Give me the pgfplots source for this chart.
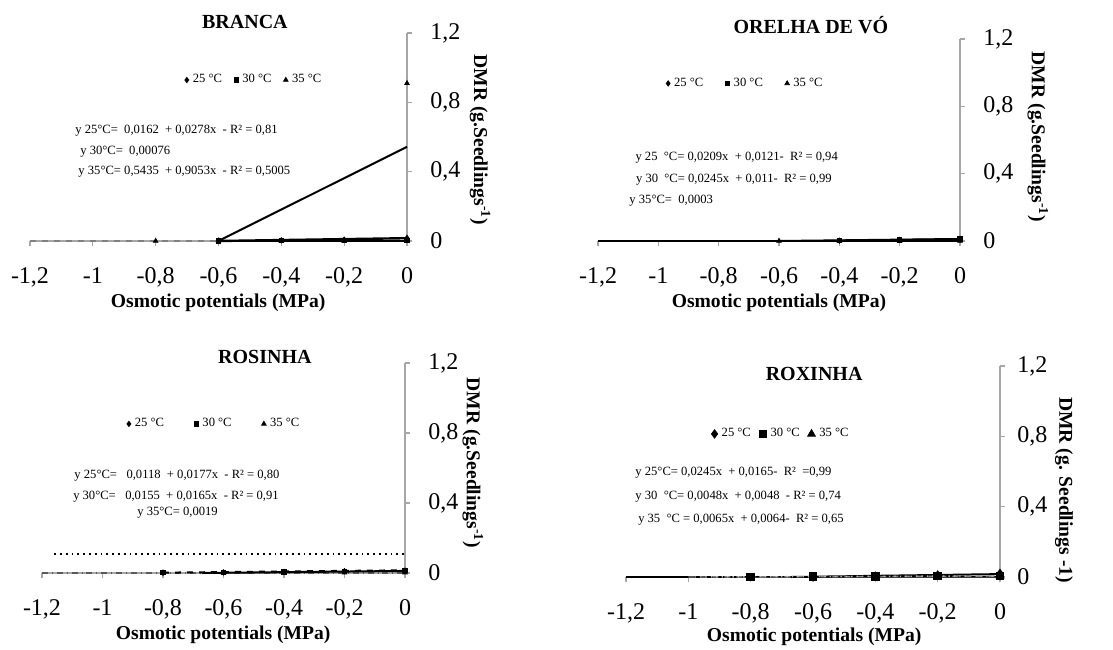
\documentclass[border=0pt]{standalone}
\usepackage{fontspec}
\setmainfont{Liberation Serif}
\usepackage{pgfplots}
\pgfplotsset{compat=1.18}
\newcommand{\eqf}{\fontsize{6.3}{7}\selectfont}
\tikzset{eq/.style={anchor=west, inner sep=0pt, font=\eqf}}
\pgfplotsset{
  panel/.style={
    scale only axis, clip=false,
    xmin=-1.2, xmax=0, ymin=0, ymax=1.2,
    axis x line*=bottom, axis y line*=right,
    axis line style={draw=gray!70, line width=0.6pt},
    xtick={-1.2,-1,-0.8,-0.6,-0.4,-0.2,0},
    xticklabels={{-1,2},{-1},{-0,8},{-0,6},{-0,4},{-0,2},{0}},
    ytick={0,0.4,0.8,1.2},
    yticklabels={{0},{0,4},{0,8},{1,2}},
    tick align=outside, major tick length=2.5pt,
    tick style={draw=gray!70, line width=0.6pt},
    ticklabel style={font=\fontsize{12}{12}\selectfont},
    xticklabel style={anchor=north, inner sep=0pt},
    yticklabel style={anchor=west, inner sep=0pt},
    xticklabel shift=10.5pt,
    yticklabel shift=9pt,
    legend columns=3,
    legend style={draw=none, fill=none, font=\eqf, anchor=center,
      /tikz/every even column/.append style={column sep=4pt}},
    legend cell align=left,
  },
  lbl/.style n args={6}{
    every axis title/.style={at={(axis description cs:#1,#2)}, anchor=center, font=\fontsize{10}{10}\selectfont\bfseries},
    every axis x label/.style={at={(axis description cs:#3,#4)}, anchor=center, font=\fontsize{9.8}{10}\selectfont\bfseries},
    every axis y label/.style={at={(axis description cs:#5,#6)}, anchor=center, rotate=-90, font=\fontsize{9.8}{10}\selectfont\bfseries},
  },
  m25/.style={only marks, mark=diamond*, mark size=1.3pt, black},
  m30/.style={only marks, mark=square*, mark size=1.1pt, black},
  m35/.style={only marks, mark=triangle*, mark size=1.3pt, black},
}
\begin{document}
\begin{tikzpicture}
\useasboundingbox (0,0) rectangle (556.5pt,324.5pt);

% ---------------- BRANCA ----------------
\begin{axis}[panel, at={(15pt,204pt)}, anchor=south west,
  width=188.5pt, height=104pt,
  lbl={0.57}{1.055}{0.499}{-0.298}{1.194}{0.486},
  title={BRANCA}, xlabel={Osmotic potentials (MPa)},
  ylabel={DMR (g.Seedlings\textsuperscript{-1})},
  legend style={at={(axis description cs:0.597,0.774)}}]
\addplot[m25] coordinates {(-0.6,0.002) (-0.4,0.004) (-0.2,0.008) (0,0.018)};
\addlegendentry{25 °C}
\addplot[m30] coordinates {(-0.6,0.001) (-0.4,0.002) (-0.2,0.002) (0,0.004)};
\addlegendentry{30 °C}
\addplot[m35] coordinates {(-0.8,0) (-0.6,0) (-0.4,0) (-0.2,0) (0,0.91)};
\addlegendentry{35 °C}
\addplot[forget plot, gray, dashed, line width=0.6pt] coordinates {(-1.2,0) (0,0)};
\addplot[forget plot, black, line width=1pt] coordinates {(-0.6,0.0003) (0,0.5435)};
\addplot[forget plot, black, line width=1.2pt] coordinates {(-0.6,0) (0,0.0162)};
\addplot[forget plot, black, line width=0.8pt] coordinates {(-0.6,0.00076) (0,0.00076)};
\node[eq] at (axis cs:-1.057,0.635) {y 25°C=\ \ 0,0162\ \ + 0,0278x\ \ - R² = 0,81};
\node[eq] at (axis cs:-1.041,0.513) {y 30°C=\ \ 0,00076};
\node[eq] at (axis cs:-1.047,0.398) {y 35°C=\ 0,5435\ \ + 0,9053x\ \ - R² = 0,5005};
\end{axis}

% ---------------- ORELHA DE VO ----------------
\begin{axis}[panel, at={(299pt,204pt)}, anchor=south west,
  width=181pt, height=101pt,
  lbl={0.588}{1.069}{0.5}{-0.307}{1.215}{0.515},
  title={ORELHA DE VÓ}, xlabel={Osmotic potentials (MPa)},
  ylabel={DMR (g.Seedlings\textsuperscript{-1})},
  legend style={at={(axis description cs:0.41,0.78)},
    /tikz/every even column/.append style={column sep=9pt}}]
\addplot[m25] coordinates {(-0.4,0.002) (-0.2,0.007) (0,0.013)};
\addlegendentry{25 °C}
\addplot[m30] coordinates {(-0.4,0.002) (-0.2,0.006) (0,0.012)};
\addlegendentry{30 °C}
\addplot[m35] coordinates {(-0.6,0) (-0.4,0) (-0.2,0) (0,0)};
\addlegendentry{35 °C}
\addplot[forget plot, black, line width=0.9pt] coordinates {(-1.2,0.0003) (0,0.0003)};
\addplot[forget plot, black, line width=1pt] coordinates {(-0.6,0) (0,0.0121)};
\addplot[forget plot, black, line width=1pt] coordinates {(-0.45,0) (0,0.011)};
\node[eq] at (axis cs:-1.077,0.493) {y 25 \ °C= 0,0209x\ \ + 0,0121-\ \ R² = 0,94};
\node[eq] at (axis cs:-1.075,0.362) {y 30 \ °C= 0,0245x\ \ + 0,011-\ \ R² = 0,99};
\node[eq] at (axis cs:-1.097,0.238) {y 35°C=\ \ 0,0003};
\end{axis}

% ---------------- ROSINHA ----------------
\begin{axis}[panel, at={(21pt,38pt)}, anchor=south west,
  width=181.5pt, height=105pt,
  lbl={0.614}{1.029}{0.499}{-0.295}{1.187}{0.524},
  title={ROSINHA}, xlabel={Osmotic potentials (MPa)},
  ylabel={DMR (g.Seedlings\textsuperscript{-1})},
  legend style={at={(axis description cs:0.477,0.71)},
    /tikz/every even column/.append style={column sep=13pt}}]
\addplot[m25] coordinates {(-0.8,0.001) (-0.6,0.003) (-0.4,0.007) (-0.2,0.011) (0,0.014)};
\addlegendentry{25 °C}
\addplot[m30] coordinates {(-0.8,0.002) (-0.6,0.004) (-0.4,0.006) (-0.2,0.01) (0,0.016)};
\addlegendentry{30 °C}
\addplot[m35] coordinates {(-0.8,0.002) (-0.6,0.002) (-0.4,0.002) (-0.2,0.002) (0,0.002)};
\addlegendentry{35 °C}
\addplot[forget plot, black, dotted, line width=0.9pt] coordinates {(-1.16,0.11) (0,0.11)};
\addplot[forget plot, gray!70!black, dash dot, line width=0.7pt] coordinates {(-1.2,0) (0,0)};
\addplot[forget plot, black, line width=1pt] coordinates {(-0.67,0) (0,0.0118)};
\addplot[forget plot, black, dashed, line width=1pt] coordinates {(-0.8,0.002) (0,0.0155)};
\node[eq] at (axis cs:-1.094,0.554) {y 25°C=\ \ \ 0,0118\ \ + 0,0177x\ \ - R² = 0,80};
\node[eq] at (axis cs:-1.098,0.434) {y 30°C=\ \ \ 0,0155\ \ + 0,0165x\ \ - R² = 0,91};
\node[eq] at (axis cs:-0.886,0.343) {y 35°C=\ 0,0019};
\end{axis}

% ---------------- ROXINHA ----------------
\begin{axis}[panel, at={(313pt,36pt)}, anchor=south west,
  width=187pt, height=105.5pt,
  lbl={0.503}{0.962}{0.503}{-0.284}{1.171}{0.412},
  yticklabel shift=6pt,
  title={ROXINHA}, xlabel={Osmotic potentials (MPa)},
  ylabel={DMR (g. Seedlings -1)},
  m25/.append style={mark size=2.1pt},
  m30/.append style={mark size=1.9pt},
  m35/.append style={mark size=2.2pt},
  legend style={at={(axis description cs:0.417,0.678)},
    /tikz/every even column/.append style={column sep=2pt}}]
\addplot[m25] coordinates {(-0.4,0.005) (-0.2,0.011) (0,0.02)};
\addlegendentry{25 °C}
\addplot[m30] coordinates {(-0.8,0.001) (-0.6,0.002) (-0.4,0.003) (-0.2,0.006) (0,0.006)};
\addlegendentry{30 °C}
\addplot[m35] coordinates {(-0.2,0.002) (0,0.006)};
\addlegendentry{35 °C}
\addplot[forget plot, black, line width=0.8pt] coordinates {(-1.2,0) (0,0.001)};
\addplot[forget plot, black, line width=1pt] coordinates {(-0.67,0) (0,0.0165)};
\addplot[forget plot, gray, dashed, line width=0.7pt] coordinates {(-1,0) (0,0.0048)};
\addplot[forget plot, gray!60, dotted, line width=0.7pt] coordinates {(-0.98,0) (0,0.0064)};
\node[eq] at (axis cs:-1.171,0.591) {y 25°C=\ 0,0245x\ \ + 0,0165-\ \ R² \ =0,99};
\node[eq] at (axis cs:-1.171,0.455) {y 30 \ °C= 0,0048x\ \ + 0,0048\ \ - R² = 0,74};
\node[eq] at (axis cs:-1.162,0.324) {y 35 \ °C = 0,0065x\ \ + 0,0064-\ \ R² = 0,65};
\end{axis}
\end{tikzpicture}
\end{document}
